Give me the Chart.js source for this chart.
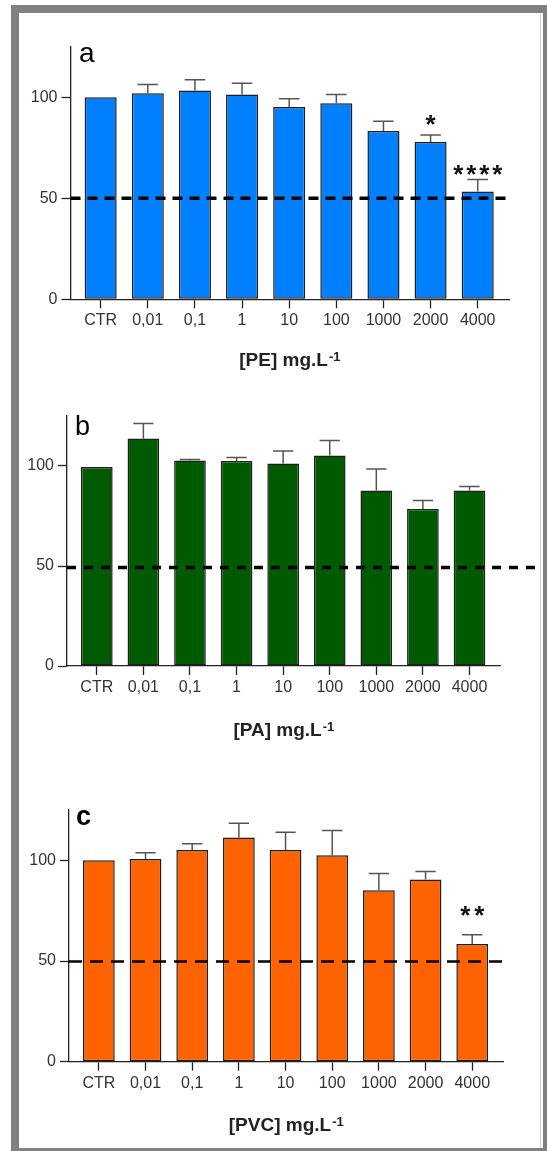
<!DOCTYPE html>
<html>
<head>
<meta charset="utf-8">
<script src="https://cdn.jsdelivr.net/npm/chart.js@4.4.1/dist/chart.umd.min.js"></script>
<style>
    html, body { margin: 0; padding: 0; background: #fff; }
    body { width: 547px; height: 1151px; position: relative; overflow: hidden; }
    .frame {
        position: absolute; left: 11px; top: 5px; right: 0; bottom: 0;
        border-style: solid; border-color: #808080;
        border-width: 8px 4px 3px 8px;
    }
    .edge { position: absolute; left: 540px; top: 13px; width: 1px; height: 1135px; background: #d4d4d4; }
    canvas { position: absolute; left: 0; }
</style>
</head>
<body>
<div class="frame"></div>
<div class="edge"></div>
<canvas id="chartPE"></canvas>
<canvas id="chartPA"></canvas>
<canvas id="chartPVC"></canvas>
<script>
// Values (% of control)
const doses = ['CTR', '0,01', '0,1', '1', '10', '100', '1000', '2000', '4000'];
const yTickValues = [0, 50, 100];

// a - PE
const peMean = [100, 102, 103.3, 101.3, 95.2, 97, 83.3, 77.9, 53.4];
const peSd = [0, 4.3, 5.3, 5.6, 4.0, 4.3, 4.8, 3.4, 5.9];
const peStars = ['', '', '', '', '', '', '', '*', '****'];
const peStarAt = [0, 0, 0, 0, 0, 0, 0, 88.9, 64.1];
const peRef = 50;

// b - PA
const paMean = [99.5, 113.7, 102.7, 102.5, 101.3, 105.2, 87.7, 78.5, 87.7];
const paSd = [0, 7.6, 0.6, 1.8, 6.2, 7.5, 10.8, 4.2, 2.1];
const paStars = ['', '', '', '', '', '', '', '', ''];
const paStarAt = [0, 0, 0, 0, 0, 0, 0, 0, 0];
const paRef = 49.3;

// c - PVC
const pvcMean = [100, 100.7, 105.1, 111.4, 105.1, 102.5, 85.2, 90.5, 58.4];
const pvcSd = [0, 3.1, 3.2, 7.0, 8.8, 12.3, 8.3, 4.0, 4.6];
const pvcStars = ['', '', '', '', '', '', '', '', '**'];
const pvcStarAt = [0, 0, 0, 0, 0, 0, 0, 0, 74.6];
const pvcRef = 49.7;

const FONT = "'Liberation Sans', Arial, sans-serif";

// error bars, dashed 50% line, stars, panel letter and axis title
function panelExtras(p) {
    return {
        id: 'panelExtras',
        afterDatasetsDraw(chart) {
            const ctx = chart.ctx;
            const y = chart.scales.y;
            const area = chart.chartArea;
            const bars = chart.getDatasetMeta(0).data;
            ctx.save();

            // upper error bars
            ctx.strokeStyle = '#555';
            ctx.lineWidth = 1.5;
            bars.forEach((bar, i) => {
                if (!p.sd[i]) return;
                const top = y.getPixelForValue(p.mean[i] + p.sd[i]);
                const half = bar.width * 0.32;
                ctx.beginPath();
                ctx.moveTo(bar.x, bar.y);
                ctx.lineTo(bar.x, top);
                ctx.moveTo(bar.x - half, top);
                ctx.lineTo(bar.x + half, top);
                ctx.stroke();
            });

            // dashed reference line
            const ry = y.getPixelForValue(p.ref);
            ctx.strokeStyle = '#000';
            ctx.lineWidth = p.dashWidth;
            ctx.setLineDash(p.dash);
            ctx.beginPath();
            ctx.moveTo(area.left, ry);
            ctx.lineTo(area.right + p.dashExtend, ry);
            ctx.stroke();
            ctx.setLineDash([]);

            // significance stars
            ctx.fillStyle = '#111';
            ctx.font = 'bold 26px ' + FONT;
            ctx.textAlign = 'center';
            ctx.textBaseline = 'alphabetic';
            const m = ctx.measureText('*');
            const shift = (m.actualBoundingBoxAscent - m.actualBoundingBoxDescent) / 2;
            bars.forEach((bar, i) => {
                const s = p.stars[i];
                if (!s) return;
                const cy = y.getPixelForValue(p.starAt[i]) + shift;
                const x0 = bar.x - (s.length - 1) * p.starPitch / 2;
                for (let k = 0; k < s.length; k++) {
                    ctx.fillText('*', x0 + k * p.starPitch, cy);
                }
            });

            // panel letter
            ctx.fillStyle = '#000';
            ctx.textAlign = 'left';
            ctx.font = p.letterFont + FONT;
            ctx.fillText(p.letter, area.left + p.letterDx, area.top + p.letterDy);

            // axis title with superscript
            ctx.fillStyle = '#222';
            ctx.font = 'bold 19px ' + FONT;
            const mainW = ctx.measureText(p.title).width;
            ctx.font = 'bold 13px ' + FONT;
            const supW = ctx.measureText('-1').width;
            const tx = (area.left + area.right) / 2 - (mainW + supW + 1) / 2;
            const ty = area.bottom + p.titleDy;
            ctx.font = 'bold 19px ' + FONT;
            ctx.fillText(p.title, tx, ty);
            ctx.font = 'bold 13px ' + FONT;
            ctx.fillText('-1', tx + mainW + 1, ty - 5);

            ctx.restore();
        }
    };
}

function drawPanel(id, p) {
    const canvas = document.getElementById(id);
    canvas.width = 547;
    canvas.height = p.height;
    canvas.style.top = p.top + 'px';

    const axisLine = { display: true, color: '#222', width: 1.3 };
    const tickFont = { family: FONT, size: 16 };

    new Chart(canvas, {
        type: 'bar',
        data: {
            datasets: [{
                data: p.mean.map((v, i) => ({ x: i, y: v })),
                backgroundColor: p.color,
                borderColor: '#1e1e1e',
                borderWidth: 1.5,
                borderSkipped: false,
                barPercentage: 0.68,
                categoryPercentage: 1
            }]
        },
        options: {
            responsive: false,
            animation: false,
            events: [],
            layout: { padding: p.padding },
            plugins: {
                legend: { display: false },
                tooltip: { enabled: false }
            },
            scales: {
                x: {
                    type: 'linear',
                    min: -0.64,
                    max: 8.67,
                    offset: false,
                    bounds: 'data',
                    afterBuildTicks: s => { s.ticks = doses.map((_, i) => ({ value: i })); },
                    afterFit: s => { s.height = 40; },
                    border: axisLine,
                    grid: { offset: false, drawOnChartArea: false, drawTicks: true, tickLength: 9, tickColor: '#222', tickWidth: 1.3 },
                    ticks: { font: tickFont, color: '#333', padding: 3, maxRotation: 0, autoSkip: false, callback: v => doses[v] }
                },
                y: {
                    min: 0,
                    max: 125,
                    afterBuildTicks: s => { s.ticks = yTickValues.map(v => ({ value: v })); },
                    afterFit: s => { s.width = 60; },
                    border: axisLine,
                    grid: { drawOnChartArea: false, drawTicks: true, tickLength: 9, tickColor: '#222', tickWidth: 1.3 },
                    ticks: { font: tickFont, color: '#333', padding: 4 }
                }
            }
        },
        plugins: [panelExtras(p)]
    });
}

drawPanel('chartPE', {
    top: 0, height: 385,
    padding: { top: 46.7, bottom: 45.7, left: 10.5, right: 37.7 },
    mean: peMean, sd: peSd, stars: peStars, starAt: peStarAt, ref: peRef,
    color: '#0080ff', dash: [10, 7], dashWidth: 3.5, dashExtend: 0, starPitch: 13,
    letter: 'a', letterFont: '28px ', letterDx: 8.5, letterDy: 15,
    title: '[PE] mg.L', titleDy: 66.5
});

drawPanel('chartPA', {
    top: 385, height: 380,
    padding: { top: 31, bottom: 59, left: 7, right: 46.3 },
    mean: paMean, sd: paSd, stars: paStars, starAt: paStarAt, ref: paRef,
    color: '#005a00', dash: [9, 8], dashWidth: 3.5, dashExtend: 37, starPitch: 13,
    letter: 'b', letterFont: '27px ', letterDx: 8, letterDy: 19,
    title: '[PA] mg.L', titleDy: 70
});

drawPanel('chartPVC', {
    top: 765, height: 386,
    padding: { top: 45, bottom: 49.3, left: 9, right: 43.5 },
    mean: pvcMean, sd: pvcSd, stars: pvcStars, starAt: pvcStarAt, ref: pvcRef,
    color: '#ff6200', dash: [13, 8], dashWidth: 2.5, dashExtend: 0, starPitch: 14,
    letter: 'c', letterFont: 'bold 27px ', letterDx: 7, letterDy: 15,
    title: '[PVC] mg.L', titleDy: 69.3
});
</script>
</body>
</html>
